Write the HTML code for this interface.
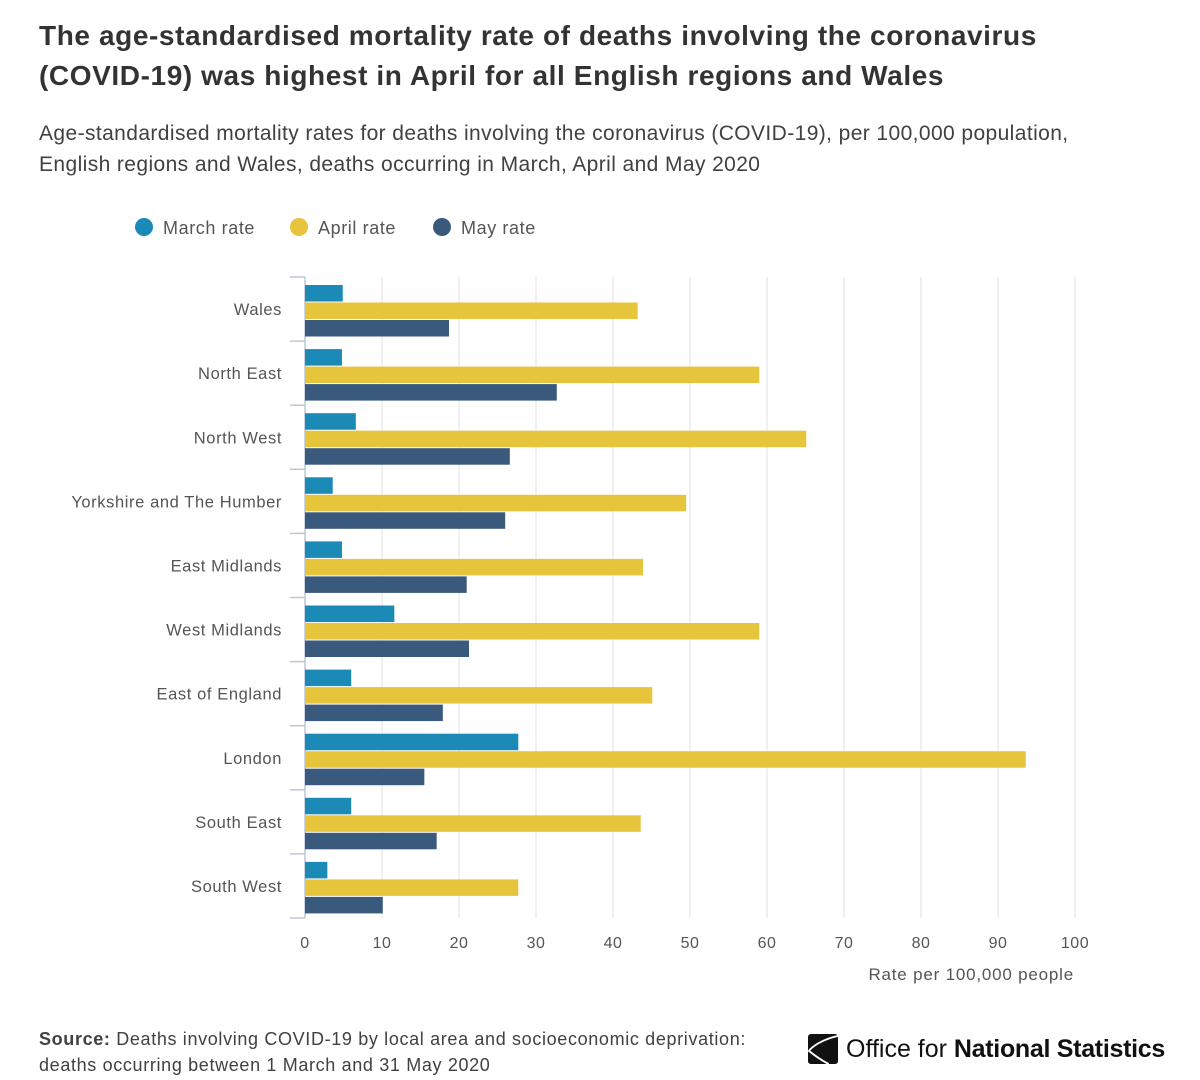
<!DOCTYPE html>
<html><head><meta charset="utf-8"><style>
body{margin:0;background:#fff;font-family:"Liberation Sans",sans-serif;color:#414042;}
#wrap{position:relative;width:1200px;height:1080px;overflow:hidden;}
h1{position:absolute;left:39px;top:16px;margin:0;font-size:28px;line-height:40px;font-weight:bold;color:#333;width:1040px;letter-spacing:0.6px;}
.sub{position:absolute;left:39px;top:118px;font-size:21px;line-height:31px;color:#414042;width:1095px;letter-spacing:0.4px;}
.src{position:absolute;left:39px;top:1026px;font-size:18px;line-height:26px;color:#414042;letter-spacing:0.65px;}
.logo{position:absolute;left:808px;top:1034px;font-size:25px;color:#111;display:flex;align-items:center;gap:8px;letter-spacing:0px;}
</style></head><body>
<div id="wrap">
<h1>The age-standardised mortality rate of deaths involving the coronavirus (COVID-19) was highest in April for all English regions and Wales</h1>
<div class="sub">Age-standardised mortality rates for deaths involving the coronavirus (COVID-19), per 100,000 population, English regions and Wales, deaths occurring in March, April and May 2020</div>
<svg id="chart" width="1200" height="1080" style="position:absolute;left:0;top:0"></svg>
<div class="src"><b>Source:</b> Deaths involving COVID-19 by local area and socioeconomic deprivation:<br>deaths occurring between 1 March and 31 May 2020</div>
<div class="logo"><svg width="30" height="30" viewBox="0 0 32 32"><rect x="0" y="0" width="32" height="32" rx="3" fill="#111"/><path d="M32 2 C14 6 4 14 1 18 C6 22 14 28 22 32" stroke="#fff" stroke-width="2" fill="none"/></svg><span>Office for <span style="font-weight:bold;letter-spacing:-0.3px">National Statistics</span></span></div>
</div>
<script>
const categories=["Wales","North East","North West","Yorkshire and The Humber","East Midlands","West Midlands","East of England","London","South East","South West"];
const marchRate=[4.9,4.8,6.6,3.6,4.8,11.6,6.0,27.7,6.0,2.9];
const aprilRate=[43.2,59.0,65.1,49.5,43.9,59.0,45.1,93.6,43.6,27.7];
const mayRate=[18.7,32.7,26.6,26.0,21.0,21.3,17.9,15.5,17.1,10.1];
const ticks=[0,10,20,30,40,50,60,70,80,90,100];
const seriesNames=["March rate","April rate","May rate"];
const colors=["#1b8ab7","#e6c43c","#3a5a7d"];
const svg=document.getElementById('chart');const NS="http://www.w3.org/2000/svg";
const x0=305,x1=1075,yTop=277,yBot=918;
const xs=v=>x0+(v/100)*(x1-x0);
const band=(yBot-yTop)/categories.length;
const FF='Liberation Sans, sans-serif';
function mk(t,a,p){const e=document.createElementNS(NS,t);for(const k in a)e.setAttribute(k,a[k]);(p||svg).appendChild(e);return e;}
ticks.forEach(t=>{
 if(t>0){const g=mk('line',{x1:xs(t),x2:xs(t),y1:yTop,y2:yBot,stroke:'#e0e0e0','stroke-width':1});
 
 }
 const l=mk('text',{x:xs(t),y:948,'text-anchor':'middle','font-size':16,fill:'#555','font-family':FF,'letter-spacing':0.5});l.textContent=t;
 
 
});
const ax=mk('line',{x1:305,x2:305,y1:yTop,y2:yBot,stroke:'#bcc8d8','stroke-width':1.5});


const xt=mk('text',{x:1074,y:980,'text-anchor':'end','font-size':17,fill:'#555','font-family':FF,'letter-spacing':0.8});xt.textContent='Rate per 100,000 people';


for(let i=0;i<=categories.length;i++){const y=yTop+i*band;const tk=mk('line',{x1:290,x2:305,y1:y,y2:y,stroke:'#bcc8d8','stroke-width':1.5});
 
 }
const series=[marchRate,aprilRate,mayRate];
categories.forEach((c,i)=>{
 const by=yTop+i*band;
 const lb=mk('text',{x:282,y:by+band/2+6,'text-anchor':'end','font-size':16.5,fill:'#555','font-family':FF,'letter-spacing':0.6});lb.textContent=c;
 
 
 series.forEach((s,j)=>{
  const r=mk('rect',{x:x0,y:by+8+j*17.5,width:xs(s[i])-x0,height:16.5,fill:colors[j]});
  
  
 });
});
const lx=[144,299,442];
seriesNames.forEach((n,j)=>{
 const c=mk('circle',{cx:lx[j],cy:227,r:9,fill:colors[j]});
 
 
 const t=mk('text',{x:lx[j]+19,y:234,'font-size':18,fill:'#555','font-family':FF,'letter-spacing':0.6});t.textContent=n;
 
 
});
</script>
</body></html>
